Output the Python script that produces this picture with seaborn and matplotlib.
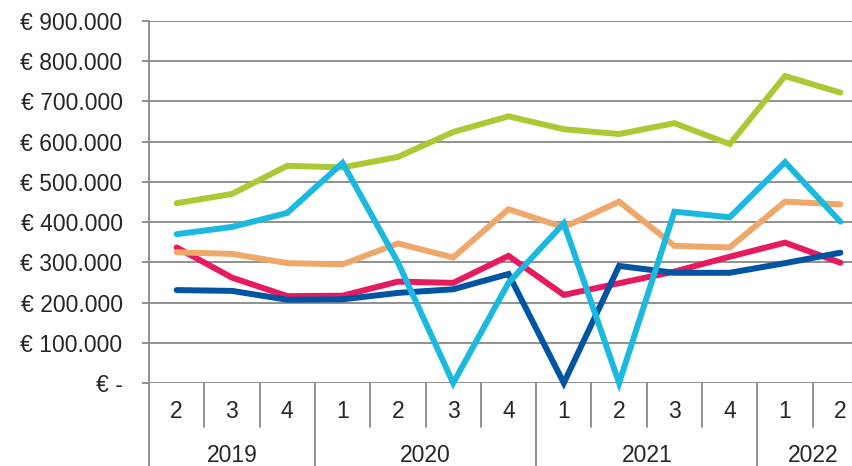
import pandas as pd
import numpy as np
import matplotlib
matplotlib.use("Agg")
import matplotlib.pyplot as plt
import matplotlib.transforms as mtransforms
from matplotlib.ticker import FuncFormatter
import seaborn as sns

# kwartalen 2019 Q2 t/m 2022 Q2
years = [2019, 2019, 2019, 2020, 2020, 2020, 2020, 2021, 2021, 2021, 2021, 2022, 2022]
quarters = [2, 3, 4, 1, 2, 3, 4, 1, 2, 3, 4, 1, 2]

donkerblauw = [231000, 229000, 207000, 208000, 224000, 233000, 271000, 0, 291000, 274000, 274000, 298000, 324000]
roze = [337000, 262000, 216000, 217000, 252000, 249000, 316000, 219000, 248000, 277000, 314000, 349000, 299000]
oranje = [325000, 321000, 298000, 295000, 347000, 312000, 432000, 387000, 451000, 341000, 337000, 451000, 444000]
groen = [447000, 470000, 540000, 536000, 562000, 624000, 663000, 631000, 619000, 646000, 594000, 763000, 722000]
cyaan = [370000, 388000, 423000, 547000, 300000, 0, 249000, 397000, 0, 426000, 412000, 549000, 401000]

series = {"roze": roze, "donkerblauw": donkerblauw, "oranje": oranje, "groen": groen, "cyaan": cyaan}
kleuren = {"roze": "#e51a5f", "donkerblauw": "#0054a2", "oranje": "#f0a86a",
           "groen": "#aac934", "cyaan": "#1bb8df"}

idx = list(range(len(quarters)))
df = pd.concat([pd.DataFrame({"pos": idx, "waarde": v, "reeks": k}) for k, v in series.items()])

sns.set_style("white")
plt.rcParams["font.family"] = ["Liberation Sans", "DejaVu Sans"]
fs = 16.5

fig = plt.figure(figsize=(8.52, 4.66), dpi=100)
W, H = 852, 466
ax_h = 383 - 21
ax = fig.add_axes([149 / W, (H - 383) / H, 719 / W, ax_h / H])

sns.lineplot(data=df, x="pos", y="waarde", hue="reeks", hue_order=list(series.keys()),
             palette=kleuren, linewidth=4.3, legend=False, ax=ax, clip_on=False)
for ln in ax.lines:
    ln.set_solid_joinstyle("miter")
    ln.set_solid_capstyle("round")
    ln.set_zorder(3)

ax.set_xlim(-0.5, len(quarters) - 0.5)
ax.set_ylim(0, 900000)
ax.set_yticks(np.arange(0, 900001, 100000))
ax.yaxis.set_major_formatter(FuncFormatter(
    lambda v, p: "€ -" if v == 0 else "€ " + f"{int(v):,}".replace(",", ".")))
ax.grid(axis="y", color="#888888", linewidth=1.3)
ax.set_axisbelow(True)
ax.tick_params(axis="y", length=5, width=1.3, color="#888888", pad=14, labelsize=fs, left=True)
ax.set_xticks([])
ax.set_xlabel("")
ax.set_ylabel("")
for s in ["top", "right", "bottom"]:
    ax.spines[s].set_visible(False)
ax.spines["left"].set_color("#888888")
ax.spines["left"].set_linewidth(1.3)

# categorie-as met twee niveaus
trans = mtransforms.blended_transform_factory(ax.transData, ax.transAxes)
q_bottom = -44 / ax_h
y_bottom = -84 / ax_h
for i, q in enumerate(quarters):
    ax.text(i, -28 / ax_h, str(q), transform=trans, ha="center", va="center", fontsize=fs)
    if i > 0:
        nieuw_jaar = years[i] != years[i - 1]
        ax.plot([i - 0.5, i - 0.5], [0, y_bottom if nieuw_jaar else q_bottom], transform=trans,
                color="#888888", linewidth=1.3, clip_on=False)
ax.plot([-0.5, -0.5], [0, y_bottom], transform=trans, color="#888888", linewidth=1.3, clip_on=False)

for jr in sorted(set(years)):
    pos = [i for i, y in enumerate(years) if y == jr]
    ax.text((pos[0] + pos[-1]) / 2, -72 / ax_h, str(jr), transform=trans,
            ha="center", va="center", fontsize=fs)

fig.savefig("out.png", dpi=100)
